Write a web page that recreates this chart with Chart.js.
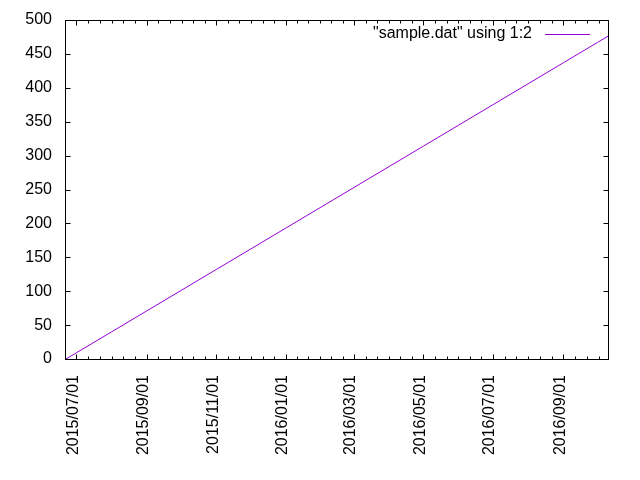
<!DOCTYPE html>
<html>
<head>
<meta charset="utf-8">
<script src="https://cdn.jsdelivr.net/npm/chart.js@4.4.1/dist/chart.umd.min.js"></script>
<style>
  html, body { margin: 0; padding: 0; background: #ffffff; }
  #c { display: block; }
</style>
</head>
<body>
<canvas id="c" width="640" height="480"></canvas>
<script>
// ---- data ----
const dates = ['2015/06/22','2015/07/01','2015/08/01','2015/09/01','2015/10/01','2015/11/01',
               '2015/12/01','2016/01/01','2016/02/01','2016/03/01','2016/04/01','2016/05/01',
               '2016/06/01','2016/07/01','2016/08/01','2016/09/01','2016/10/01','2016/10/11'];
const values = [0, 9, 40, 71, 101, 132, 162, 193, 224, 253, 284, 314, 345, 375, 406, 437, 467, 477];
const xTickLabels = ['2015/07/01','2015/09/01','2015/11/01','2016/01/01','2016/03/01','2016/05/01','2016/07/01','2016/09/01'];
const xRange = ['2015/06/22','2016/10/11'];
const yTickValues = [0, 50, 100, 150, 200, 250, 300, 350, 400, 450, 500];
const seriesLabel = '"sample.dat" using 1:2';

const DAY = 86400000;
function toDay(s) { const p = s.split('/').map(Number); return Date.UTC(p[0], p[1]-1, p[2]) / DAY; }
function fmt(d) {
  const dt = new Date(d * DAY);
  const pad = n => String(n).padStart(2, '0');
  return dt.getUTCFullYear() + '/' + pad(dt.getUTCMonth()+1) + '/' + pad(dt.getUTCDate());
}
const points = dates.map((d, i) => ({ x: toDay(d), y: values[i] }));
const majorX = xTickLabels.map(toDay);
const xMin = toDay(xRange[0]), xMax = toDay(xRange[1]);

const FONT = '"Liberation Sans", Arial, sans-serif';
const FS = 16;

const framePlugin = {
  id: 'frame',
  afterDraw(chart) {
    const ctx = chart.ctx, a = chart.chartArea;
    const xs = chart.scales.x, ys = chart.scales.y;
    ctx.save();
    ctx.strokeStyle = '#000';
    ctx.lineWidth = 1;
    const L = Math.round(a.left) - 0.5, R = Math.round(a.right) - 0.5;
    const T = Math.round(a.top) + 0.5, B = Math.round(a.bottom) + 0.5;
    ctx.beginPath();
    const step = majorX.length > 1 ? (majorX[1] - majorX[0]) : 61;
    const xt = [];
    for (let i = 0; i < majorX.length; i++) {
      xt.push([majorX[i], 5]);
      const next = i + 1 < majorX.length ? majorX[i+1] : majorX[i] + step;
      const d = (next - majorX[i]) / 6;
      for (let k = 1; k < 6; k++) xt.push([majorX[i] + k * d, 3]);
    }
    const d0 = (majorX[1] - majorX[0]) / 6;
    for (let k = 1; k < 6; k++) xt.push([majorX[0] - k * d0, 3]);
    xt.forEach(([v, len]) => {
      if (v <= xMin || v >= xMax) return;
      const px = Math.round(xs.getPixelForValue(v)) + 0.5;
      ctx.moveTo(px, B); ctx.lineTo(px, B - len);
      ctx.moveTo(px, T); ctx.lineTo(px, T + len);
    });
    yTickValues.forEach(v => {
      const py = Math.round(ys.getPixelForValue(v)) + 0.5;
      ctx.moveTo(L, py); ctx.lineTo(L + 5, py);
      ctx.moveTo(R, py); ctx.lineTo(R - 5, py);
    });
    ctx.stroke();
    ctx.strokeRect(L, T, R - L, B - T);
    const ky = Math.round(a.top) + 14;
    ctx.font = FS + 'px ' + FONT;
    ctx.fillStyle = '#000';
    ctx.textAlign = 'right';
    ctx.textBaseline = 'middle';
    ctx.fillText(seriesLabel, a.right - 77, ky);
    ctx.strokeStyle = '#9400d3';
    ctx.beginPath();
    ctx.moveTo(a.right - 64, ky + 0.5);
    ctx.lineTo(a.right - 19, ky + 0.5);
    ctx.stroke();
    ctx.restore();
  }
};

new Chart(document.getElementById('c'), {
  type: 'line',
  data: {
    datasets: [{
      label: seriesLabel,
      data: points,
      borderColor: '#9400d3',
      backgroundColor: '#9400d3',
      borderWidth: 1,
      pointRadius: 0,
      tension: 0,
      fill: false
    }]
  },
  options: {
    responsive: false,
    animation: false,
    layout: { padding: { left: 0, top: 20, right: 31, bottom: 0 } },
    plugins: { legend: { display: false }, tooltip: { enabled: false } },
    scales: {
      x: {
        type: 'linear',
        min: xMin, max: xMax,
        afterBuildTicks(scale) { scale.ticks = majorX.map(v => ({ value: v })); },
        afterFit(scale) { scale.height = 121; },
        grid: { display: false, drawTicks: false },
        border: { display: false },
        ticks: {
          autoSkip: false,
          minRotation: 90, maxRotation: 90,
          padding: 16,
          labelOffset: -3,
          color: '#000',
          font: { family: FONT, size: FS },
          callback: v => fmt(v)
        }
      },
      y: {
        type: 'linear',
        min: 0, max: 500,
        afterBuildTicks(scale) { scale.ticks = yTickValues.map(v => ({ value: v })); },
        afterFit(scale) { scale.width = 66; },
        grid: { display: true, drawOnChartArea: false, drawTicks: true, tickLength: 5, color: 'rgba(0,0,0,0)', tickColor: 'rgba(0,0,0,0)' },
        border: { display: false },
        ticks: {
          padding: 9,
          color: '#000',
          font: { family: FONT, size: FS },
          callback: v => String(v)
        }
      }
    }
  },
  plugins: [framePlugin]
});
</script>
</body>
</html>
